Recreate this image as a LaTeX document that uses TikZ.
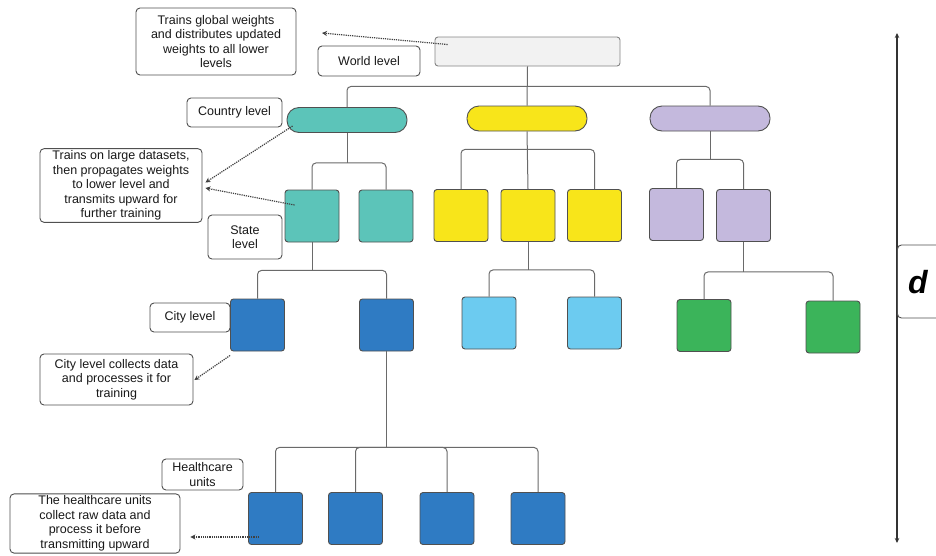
\documentclass[tikz,border=0pt]{standalone}
\usepackage{fontspec}
\setmainfont{Liberation Sans}
\usetikzlibrary{calc,arrows.meta}
\definecolor{tealc}{HTML}{5CC4B9}
\definecolor{yellowc}{HTML}{F8E51A}
\definecolor{purplec}{HTML}{C4B9DD}
\definecolor{bluec}{HTML}{2F7BC3}
\definecolor{lbluec}{HTML}{6CCBF0}
\definecolor{greenc}{HTML}{3BB45A}
\definecolor{grayc}{HTML}{F2F2F2}
\definecolor{linec}{HTML}{6A6A6A}
\definecolor{edgec}{HTML}{505050}
\tikzset{
  txt/.style={font=\fontsize{12.5}{14.5}\selectfont, text=black!90, align=center},
  label box/.style={txt, draw=edgec, line width=0.9pt, rounded corners=4pt, fill=white, inner sep=2pt},
  sq/.style={draw=edgec, line width=0.9pt, rounded corners=3pt, minimum width=54, minimum height=52},
  pill/.style={draw=edgec, line width=0.9pt, rounded corners=12pt, minimum width=120, minimum height=25},
  conn/.style={draw=linec, line width=1pt, rounded corners=4pt},
  notearrow/.style={draw=black!75, line width=1.2pt, densely dotted, -{Stealth[length=5pt,width=5pt]}},
}
\begin{document}
\begin{tikzpicture}[x=1pt,y=-1pt]
\useasboundingbox (0,0) rectangle (936,555);
\clip (0,0) rectangle (936,555);

% world
\node[draw=edgec!70, line width=0.9pt, rounded corners=3pt, fill=grayc, minimum width=185, minimum height=29] (world) at (527.5,51.5) {};
\node[label box, minimum width=160, minimum height=67] (worldnote) at (216,41.5) {Trains global weights\\and distributes updated\\weights to all lower\\levels};
\node[label box, minimum width=102, minimum height=30] (worldlbl) at (369,61) {World level};

% country
\node[label box, minimum width=95, minimum height=29] (countrylbl) at (234.5,112.5) {Country level};
\node[pill, fill=tealc] (cT) at (347,120) {};
\node[pill, fill=yellowc] (cY) at (527,118.5) {};
\node[pill, fill=purplec] (cP) at (710,118.5) {};

% state
\node[label box, minimum width=162, minimum height=73] (note2) at (121,185.5) {Trains on large datasets,\\then propagates weights\\to lower level and\\transmits upward for\\further training};
\node[label box, minimum width=74, minimum height=44] (statelbl) at (245,237) {State\\level};
\node[sq, fill=tealc] (sT1) at (312,216) {};
\node[sq, fill=tealc] (sT2) at (386,216) {};
\node[sq, fill=yellowc] (sY1) at (461,215.5) {};
\node[sq, fill=yellowc] (sY2) at (528,215.5) {};
\node[sq, fill=yellowc] (sY3) at (594.5,215.5) {};
\node[sq, fill=purplec] (sP1) at (676.5,214.5) {};
\node[sq, fill=purplec] (sP2) at (743.5,215.5) {};

% city
\node[label box, minimum width=80, minimum height=29] (citylbl) at (190,317.5) {City level};
\node[label box, minimum width=153, minimum height=51] (citynote) at (116.5,379.5) {City level collects data\\and processes it for\\training};
\node[sq, fill=bluec] (cB1) at (257.5,325) {};
\node[sq, fill=bluec] (cB2) at (386.5,325) {};
\node[sq, fill=lbluec] (cL1) at (489,323) {};
\node[sq, fill=lbluec] (cL2) at (594.5,323) {};
\node[sq, fill=greenc] (cG1) at (704,325.5) {};
\node[sq, fill=greenc] (cG2) at (833,327) {};

% healthcare
\node[label box, minimum width=81, minimum height=31] (hlbl) at (202.5,474.5) {Healthcare\\units};
\node[label box, minimum width=170, minimum height=58] (hnote) at (95,523.5) {The healthcare units\\collect raw data and\\process it before\\transmitting upward};
\node[sq, fill=bluec] (h1) at (275.5,518.5) {};
\node[sq, fill=bluec] (h2) at (355.5,518.5) {};
\node[sq, fill=bluec] (h3) at (447,518.5) {};
\node[sq, fill=bluec] (h4) at (538,518.5) {};

% junctions
\coordinate (jW) at ($(world.south)+(0,20)$);
\coordinate (jT) at ($(cT.south)+(0,30)$);
\coordinate (jY) at ($(cY.south)+(0,18)$);
\coordinate (jP) at ($(cP.south)+(0,28)$);
\coordinate (jS) at ($(sT1.south)+(0,28)$);
\coordinate (jSY) at ($(sY2.south)+(0,28)$);
\coordinate (jSP) at ($(sP2.south)+(0,30)$);
\coordinate (jH) at ($(cB2.south)+(0,96)$);

% connectors
\draw[conn] (world.south) -- (cY.north);
\draw[conn] (cT.north) |- (jW) -| (cP.north);
\draw[conn] (cT.south) -- (jT);
\draw[conn] (sT1.north) |- (jT) -| (sT2.north);
\draw[conn] (cY.south) -- (sY2.north);
\draw[conn] (sY1.north) |- (jY) -| (sY3.north);
\draw[conn] (cP.south) -- (jP);
\draw[conn] (sP1.north) |- (jP) -| (sP2.north);
\draw[conn] (sT1.south) -- (jS);
\draw[conn] (cB1.north) |- (jS) -| (cB2.north);
\draw[conn] (sY2.south) -- (jSY);
\draw[conn] (cL1.north) |- (jSY) -| (cL2.north);
\draw[conn] (sP2.south) -- (jSP);
\draw[conn] (cG1.north) |- (jSP) -| (cG2.north);
\draw[conn] (cB2.south) -- (jH);
\draw[conn] (h1.north) |- (jH) -| (h4.north);
\draw[conn] (h2.north) |- (jH);
\draw[conn] (h3.north) |- (jH);

% annotation arrows
\coordinate (a1s) at ($(world.west)+(13,-7)$);
\coordinate (a1e) at (322,33);
\draw[notearrow] (a1s) -- (a1e);
\coordinate (a2s) at ($(cT.west)+(6,6)$);
\coordinate (a2e) at ($(note2.east)+(3,-3)$);
\draw[notearrow] (a2s) -- (a2e);
\coordinate (a3s) at ($(sT1.west)+(10,-11)$);
\coordinate (a3e) at ($(note2.east)+(3,2.5)$);
\draw[notearrow] (a3s) -- (a3e);
\coordinate (a4s) at ($(cB1.south west)+(0,4)$);
\coordinate (a4e) at ($(citynote.east)+(1,0.5)$);
\draw[notearrow] (a4s) -- (a4e);
\coordinate (a5s) at ($(h1.west)+(11,18.5)$);
\coordinate (a5e) at ($(hnote.east)+(10,13.5)$);
\draw[notearrow] (a5s) -- (a5e);

% distance
\coordinate (dtop) at (897,33);
\coordinate (dbot) at (897,543);
\draw[draw=black!80, line width=1.2pt, {Stealth[length=5pt,width=4.5pt]}-{Stealth[length=5pt,width=4.5pt]}] (dtop) -- (dbot);
\node[draw=edgec, line width=0.9pt, rounded corners=4pt, fill=white, anchor=west, minimum width=60, minimum height=73] (dbox) at (897,281.5) {};
\node[font=\fontsize{32}{32}\selectfont\bfseries\itshape, text=black] (dlbl) at (918,282) {d};
\end{tikzpicture}
\end{document}
